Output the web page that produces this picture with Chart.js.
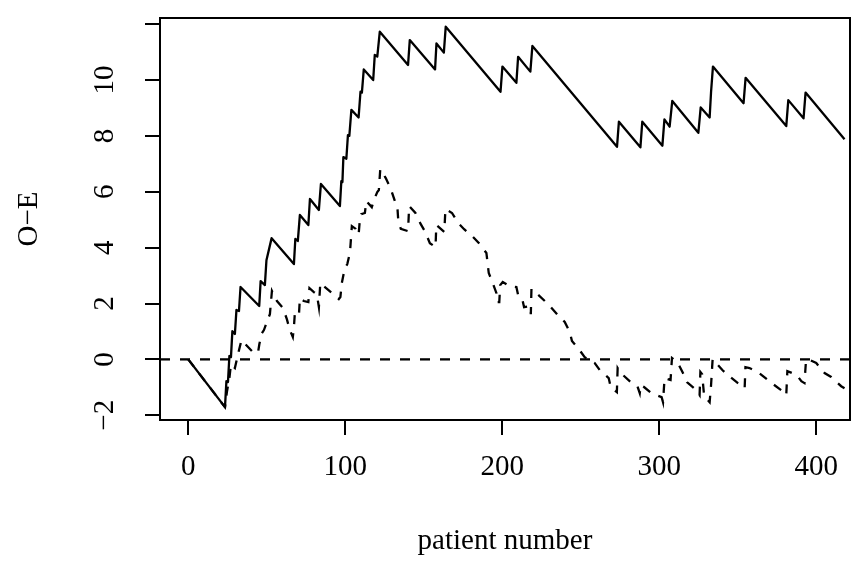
<!DOCTYPE html>
<html>
<head>
<meta charset="utf-8">
<script src="https://cdn.jsdelivr.net/npm/chart.js@4.4.1/dist/chart.umd.min.js"></script>
<style>
  html, body { margin: 0; padding: 0; background: #fff; }
  #chart { display: block; }
</style>
</head>
<body>
<canvas id="chart" width="861" height="575"></canvas>
<script>
// solid O-E curve: vertices (patient number, O-E)
const solidPatient = [0, 23.4, 24.3, 25.3, 26.2, 27.2, 28.1, 29.7, 30.7, 32.3, 33.3, 45.2, 46.1, 48.8, 49.8, 53.1,
  67.3, 68.2, 69.8, 71.1, 76.5, 77.5, 83.2, 84.5, 96.6, 97.5, 98.2, 98.8, 100.7, 101.7, 102.6, 103.9,
  108.5, 109.7, 110.6, 111.8, 117.8, 118.8, 120.4, 122.0, 140.0, 141.1, 157.2, 158.1, 162.8, 164.0,
  198.9, 200.1, 209.0, 210.1, 217.9, 219.2, 273.1, 274.3, 288.0, 289.2, 302.0, 303.3, 306.6, 308.3,
  324.9, 326.4, 332.1, 333.0, 334.2, 353.7, 355.0, 380.9, 382.2, 391.9, 393.2, 418.0];
const solidOE = [0, -1.71, -0.78, -0.81, 0.12, 0.08, 1.01, 0.91, 1.77, 1.73, 2.59, 1.91, 2.80, 2.66, 3.55, 4.34,
  3.41, 4.31, 4.24, 5.17, 4.81, 5.74, 5.35, 6.28, 5.49, 6.38, 6.35, 7.24, 7.18, 8.03, 8.00, 8.93,
  8.66, 9.58, 9.55, 10.38, 10.00, 10.90, 10.84, 11.73, 10.54, 11.43, 10.38, 11.31, 10.98, 11.91,
  9.58, 10.48, 9.90, 10.83, 10.30, 11.22, 7.61, 8.51, 7.59, 8.51, 7.65, 8.59, 8.33, 9.25,
  8.11, 9.02, 8.66, 9.57, 10.48, 9.17, 10.08, 8.35, 9.28, 8.63, 9.55, 7.88];

// dashed O-E curve
const dashedPatient = [0, 23.4, 24.6, 26.2, 27.2, 29.7, 32.0, 33.9, 41.2, 44.4, 45.3, 46.9, 48.2, 50.1, 52.0, 53.3,
  56.5, 60.3, 62.8, 64.7, 66.6, 67.3, 67.9, 70.5, 71.1, 73.6, 76.5, 77.2, 80.0, 81.9, 83.2, 84.1,
  95.9, 96.9, 97.8, 99.7, 101.3, 102.6, 103.2, 104.2, 106.7, 108.5, 109.3, 110.2, 112.5, 113.4, 116.9,
  118.5, 120.4, 121.4, 122.3, 125.8, 129.0, 131.6, 133.2, 133.8, 135.4, 140.0, 140.7, 144.7, 148.1,
  150.7, 153.9, 157.5, 158.0, 163.1, 163.8, 168.0, 171.9, 175.7, 181.4, 185.2, 189.9, 190.6, 191.4,
  193.5, 196.3, 196.8, 198.1, 198.7, 200.3, 204.8, 209.0, 210.1, 212.6, 213.9, 217.5, 218.2, 218.6,
  221.8, 227.1, 231.0, 236.0, 239.8, 243.0, 244.4, 249.3, 252.5, 258.9, 262.1, 267.8, 269.1, 273.0,
  273.5, 275.5, 281.8, 286.1, 287.6, 288.2, 290.3, 295.0, 301.5, 302.4, 303.1, 303.4, 307.2, 308.1,
  311.9, 315.1, 317.6, 323.6, 325.7, 326.2, 327.3, 328.6, 332.1, 333.0, 334.0, 340.2, 343.7, 350.1,
  354.4, 354.9, 357.5, 362.8, 369.2, 372.4, 379.2, 380.9, 381.6, 387.6, 390.5, 392.5, 393.5, 395.7,
  400.0, 405.3, 409.5, 415.9, 418.0];
const dashedOE = [0, -1.71, -1.17, -0.67, -0.17, -0.31, 0.26, 0.69, 0.26, 0.23, 0.55, 0.94, 1.05, 1.34, 1.62, 2.45,
  2.09, 1.84, 1.44, 1.05, 0.80, 1.16, 1.66, 1.59, 2.19, 2.09, 2.05, 2.55, 2.41, 2.33, 1.87, 2.73,
  2.16, 2.23, 2.73, 3.27, 3.41, 3.73, 3.98, 4.77, 4.67, 4.46, 5.00, 5.20, 5.24, 5.67, 5.45,
  5.74, 5.99, 6.06, 6.81, 6.49, 6.10, 5.67, 5.45, 4.95, 4.67, 4.59, 5.49, 5.24, 4.84,
  4.59, 4.16, 4.02, 4.81, 4.56, 5.38, 5.24, 4.88, 4.66, 4.38, 4.16, 3.81, 3.48, 3.09,
  2.80, 2.37, 2.05, 2.05, 2.66, 2.77, 2.62, 2.59, 2.30, 2.19, 1.87, 1.91, 1.62, 2.52,
  2.37, 2.09, 1.87, 1.55, 1.34, 0.98, 0.66, 0.33, 0.08, -0.13, -0.38, -0.67, -0.99, -1.17,
  -0.31, -0.49, -0.81, -0.96, -1.21, -0.92, -0.99, -1.21, -1.35, -1.53, -0.92, -0.67, -0.74, 0.05,
  -0.13, -0.49, -0.81, -1.10, -1.28, -0.45, -0.53, -1.31, -1.53, -0.92, 0.01, -0.38, -0.56, -0.85,
  -1.03, -0.28, -0.31, -0.45, -0.74, -0.88, -1.17, -1.28, -0.42, -0.56, -0.78, -0.85, -0.02, -0.02,
  -0.13, -0.49, -0.63, -0.96, -1.03];

// reference line at O-E = 0
const zeroLinePatient = [-18, 421.5];
const zeroLineOE = [0, 0];

const xTicks = [0, 100, 200, 300, 400];
const yTicks = [-2, 0, 2, 4, 6, 8, 10, 12];

const toPoints = (xs, ys) => xs.map((x, i) => ({ x: x, y: ys[i] }));

Chart.defaults.font.family = "'Liberation Serif', 'Times New Roman', serif";
Chart.defaults.font.size = 29;
Chart.defaults.color = "#000";

// R style box around the plot region
const boxPlugin = {
    id: "plotBox",
    afterDraw(chart) {
        const { ctx, chartArea: a } = chart;
        ctx.save();
        ctx.strokeStyle = "#000";
        ctx.lineWidth = 2;
        ctx.strokeRect(a.left, a.top, a.right - a.left, a.bottom - a.top);
        ctx.restore();
    }
};

const lineStyle = {
    borderColor: "#000",
    borderWidth: 2.3,
    pointRadius: 0,
    tension: 0,
    fill: false,
    borderJoinStyle: "round"
};

new Chart(document.getElementById("chart").getContext("2d"), {
    type: "line",
    data: {
        datasets: [
            { ...lineStyle, label: "zero", data: toPoints(zeroLinePatient, zeroLineOE), borderDash: [10, 10], borderJoinStyle: "miter" },
            { ...lineStyle, label: "solid", data: toPoints(solidPatient, solidOE) },
            { ...lineStyle, label: "dashed", data: toPoints(dashedPatient, dashedOE), borderDash: [9, 9], borderJoinStyle: "miter" }
        ]
    },
    options: {
        responsive: false,
        animation: false,
        layout: { padding: { left: 0, right: 11, top: 18, bottom: 0 } },
        plugins: { legend: { display: false }, tooltip: { enabled: false } },
        scales: {
            x: {
                type: "linear",
                min: -18,
                max: 421.5,
                afterBuildTicks: (scale) => { scale.ticks = xTicks.map(v => ({ value: v })); },
                afterFit: (scale) => {
                    scale.height = 155;
                    scale.paddingLeft = 0;
                    scale.paddingRight = 0;
                },
                border: { display: false },
                grid: { drawOnChartArea: false, drawTicks: true, tickLength: 15, lineWidth: 2, color: "#000" },
                ticks: { padding: 15, maxRotation: 0, minRotation: 0 },
                title: { display: true, text: "patient number", font: { size: 29 }, padding: { top: 0, bottom: 16 } }
            },
            y: {
                type: "linear",
                min: -2.17,
                max: 12.22,
                afterBuildTicks: (scale) => { scale.ticks = yTicks.map(v => ({ value: v })); },
                afterFit: (scale) => {
                    scale.width = 160;
                    scale.paddingTop = 0;
                    scale.paddingBottom = 0;
                },
                border: { display: false },
                grid: { drawOnChartArea: false, drawTicks: true, tickLength: 15, lineWidth: 2, color: "#000" },
                ticks: {
                    padding: 24,
                    crossAlign: "center",
                    minRotation: 90,
                    maxRotation: 90,
                    callback: (v) => (v === 12 ? "" : String(v).replace("-", "\u2212"))
                },
                title: { display: true, text: "O\u2212E", font: { size: 29 }, padding: { top: 12, bottom: 0 } }
            }
        }
    },
    plugins: [boxPlugin]
});
</script>
</body>
</html>
